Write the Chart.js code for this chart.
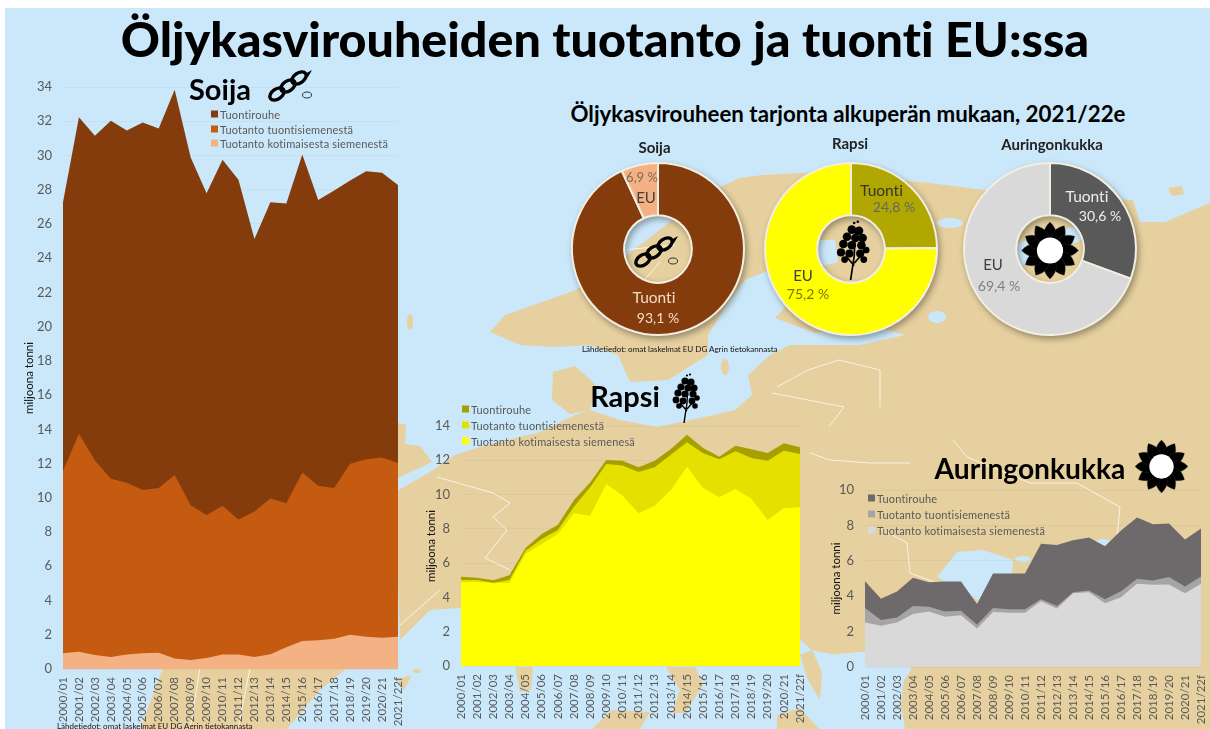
<!DOCTYPE html>
<html lang="fi">
<head>
<meta charset="utf-8">
<title>Öljykasvirouheiden tuotanto ja tuonti EU:ssa</title>
<script src="https://cdn.jsdelivr.net/npm/chart.js@4"></script>
<style>
  html, body { margin: 0; background: #fff; }
  #stage { position: relative; width: 1210px; height: 729px; overflow: hidden; font-family: Lato, sans-serif; font-variant-ligatures: none; }
  #map, canvas, .txt, .legend, .icon { position: absolute; }
  #map { left: 0; top: 0; }
  .txt { white-space: nowrap; transform: translate(-50%, -50%); }
  .txt.left { transform: translate(0, -50%); }
  .head { font-weight: 700; color: #000; }
  .legend { font-size: 11px; color: #595959; letter-spacing: .16px; }
  .legend div { position: absolute; white-space: nowrap; transform: translateY(-50%); }
  .legend i { position: absolute; width: 7px; height: 7px; top: 50%; margin-top: -3.5px; }
  .donut { filter: drop-shadow(2px 3px 3px rgba(0,0,0,.35)); }
</style>
</head>
<body>
<div id="stage">
  <svg id="map" width="1210" height="729">
    <defs>
      <symbol id="soy" viewBox="0 0 46 33">
        <g fill="none" stroke="#000" stroke-width="3.4">
          <ellipse cx="10" cy="24" rx="8" ry="5" transform="rotate(-35 10 24)"/>
          <ellipse cx="21" cy="16" rx="8" ry="5" transform="rotate(-35 21 16)"/>
          <ellipse cx="32" cy="8" rx="8" ry="5" transform="rotate(-35 32 8)"/>
        </g>
        <path d="M38 4 L45 0 L41 7 Z" fill="#000"/>
        <ellipse cx="40" cy="25" rx="4.5" ry="3" fill="none" stroke="#333" stroke-width="1"/>
      </symbol>
      <symbol id="rape" viewBox="0 0 28 50">
        <path d="M12 50 L15 30 M15 38 L8 30 M15 36 L22 28 M16 8 L15 30" stroke="#000" stroke-width="1.4" fill="none"/>
        <g fill="#000">
          <circle cx="13" cy="8" r="3.6"/><circle cx="19" cy="9" r="3.6"/><circle cx="9" cy="14" r="3.6"/>
          <circle cx="16" cy="15" r="3.6"/><circle cx="22" cy="15" r="3.6"/><circle cx="6" cy="20" r="3.6"/>
          <circle cx="13" cy="21" r="3.6"/><circle cx="21" cy="21" r="3.6"/><circle cx="4" cy="27" r="3.4"/>
          <circle cx="11" cy="28" r="3.4"/><circle cx="20" cy="28" r="3.4"/><circle cx="25" cy="25" r="2.8"/>
          <circle cx="7" cy="33" r="2.8"/><circle cx="23" cy="33" r="2.8"/>
          <circle cx="15" cy="2.5" r="1.1"/><circle cx="18" cy="1.5" r="1.1"/>
        </g>
      </symbol>
      <symbol id="sun" viewBox="-50 -50 100 100"><g id="sunPetals"></g><circle r="23" fill="#fff"/></symbol>
    </defs>
    <rect x="5" y="8" width="1205" height="721" fill="#cbe8fa"/>
    <g fill="#e6d09f">
      <path d="M720 187 L740 178 L762 175 L820 172 L870 177 L930 183 L984 190 L1010 200 L1060 196 L1133 200 L1140 222 L1165 222 L1210 203 L1210 729 L905 729 L898 690 L912 668 L880 650 L835 655 L812 650 L800 640 L795 600 L460 608 L430 610 L400 640 L395 492 L430 472 L455 455 L480 447 L540 432 L575 415 L590 410 L620 420 L657 427 L700 418 L735 410 L752 395 L748 375 L770 355 L790 345 L860 345 L905 335 L880 328 L815 333 L775 318 L800 290 L815 268 L838 262 L835 240 L812 240 L790 262 L745 280 L730 300 L708 335 L708 355 L668 380 L630 382 L618 355 L590 345 L555 347 L520 345 L490 332 L505 315 L576 290 L623 258 L675 218 Z"/>
      <path d="M553 372 L575 366 L596 385 L590 410 L570 414 L552 400 Z"/>
      <path d="M398 423 L406 425 L405 444 L420 446 L432 462 L398 478 Z"/>
      <path d="M163 668 L347 668 L320 690 L287 729 L140 729 Z"/>
      <path d="M1168 188 L1182 186 L1184 194 L1172 196 Z"/>
      <path d="M396 680 L412 675 L404 690 Z"/>
      <ellipse cx="417" cy="671" rx="4" ry="2"/>
      <ellipse cx="725" cy="367" rx="4" ry="8"/>
      <ellipse cx="410" cy="322" rx="3" ry="8"/>
      <path d="M515 667 L533 667 L531 690 L520 692 Z"/>
      <path d="M666 667 L695 667 L703 685 L685 713 L672 713 L680 690 Z"/>
      <path d="M592 729 L612 710 L650 712 L640 729 Z"/>
      <path d="M777 715 L800 708 L819 729 L777 729 Z"/>
      <path d="M800 655 L812 650 L822 672 L820 700 L808 680 Z"/>
    </g>
    <g fill="#cbe8fa">
      <ellipse cx="950" cy="223" rx="13" ry="5"/>
      <ellipse cx="937" cy="317" rx="9" ry="6"/>
      <ellipse cx="1073" cy="235" rx="10" ry="8"/>
      <ellipse cx="1023" cy="253" rx="8" ry="12"/>
      <path d="M937 577 L957 552 L983 550 L1013 560 L1010 603 L983 603 L960 590 Z"/>
      <ellipse cx="1023" cy="559" rx="8" ry="3"/>
      <ellipse cx="1103" cy="542" rx="7" ry="3"/>
      <path d="M830 655 L880 650 L905 668 L898 729 L830 729 L820 700 Z"/>
    </g>
    <g fill="none" stroke="#fff" stroke-width="1" opacity=".75">
      <path d="M437 477 L493 493 L510 503 L493 517 L507 530 L485 558 L510 570"/>
      <path d="M810 453 L830 460 L870 463 L910 463"/>
      <path d="M953 440 L967 457 L1030 483 L1077 483 L1120 507 L1117 537"/>
      <path d="M877 527 L907 543 L910 573 L937 583"/>
      <path d="M777 387 L808 370 L839 360 L880 370 L880 407"/>
      <path d="M772 393 L844 407 L829 427"/>
      <path d="M623 250 L675 245 M640 285 L660 262"/>
      <path d="M250 668 L238 729 M200 668 L190 729"/>
      <path d="M400 625 L440 590"/>
    </g>
  </svg>

  <canvas id="chartSoija" width="395" height="669" style="left:20px;top:60px"></canvas>
  <canvas id="chartRapsi" width="393" height="334" style="left:422px;top:395px"></canvas>
  <canvas id="chartAuringonkukka" width="383" height="259" style="left:827px;top:470px"></canvas>
  <canvas id="donutSoija" class="donut" width="190" height="190" style="left:563px;top:154px"></canvas>
  <canvas id="donutRapsi" class="donut" width="190" height="190" style="left:756px;top:154px"></canvas>
  <canvas id="donutAuringonkukka" class="donut" width="190" height="190" style="left:955px;top:154px"></canvas>

  <svg class="icon" style="left:267px;top:70px" width="46" height="33"><use href="#soy"/></svg>
  <svg class="icon" style="left:672px;top:373px" width="28" height="50"><use href="#rape"/></svg>
  <svg class="icon" style="left:1135px;top:440px" width="53" height="53"><use href="#sun"/></svg>
  <svg class="icon" style="left:633px;top:236px" width="46" height="33"><use href="#soy"/></svg>
  <svg class="icon" style="left:836px;top:220px" width="34" height="60"><use href="#rape"/></svg>
  <svg class="icon" style="left:1021px;top:222px" width="58" height="57"><use href="#sun"/></svg>

  <div class="txt head" id="mainTitle" style="left:605px;top:38px;font-size:48.4px;font-weight:900">Öljykasvirouheiden tuotanto ja tuonti EU:ssa</div>
  <div class="txt head" style="left:848px;top:113px;font-size:22.3px">Öljykasvirouheen tarjonta alkuperän mukaan, 2021/22e</div>
  <div class="txt head" style="left:220px;top:88px;font-size:29px">Soija</div>
  <div class="txt head" style="left:625px;top:395px;font-size:29px">Rapsi</div>
  <div class="txt head" style="left:1030px;top:468px;font-size:28.2px">Auringonkukka</div>
  <div class="txt head" style="left:654.5px;top:147px;font-size:15px;color:#222">Soija</div>
  <div class="txt head" style="left:850px;top:143px;font-size:15px;color:#222">Rapsi</div>
  <div class="txt head" style="left:1052px;top:144px;font-size:15px;color:#222">Auringonkukka</div>
  <div class="txt left" style="left:582px;top:349px;font-size:8px;color:#111">Lähdetiedot: omat laskelmat EU DG Agrin tietokannasta</div>
  <div class="txt left" style="left:57px;top:726px;font-size:8px;color:#111">Lähdetiedot: omat laskelmat EU DG Agrin tietokannasta</div>
  <div id="labels"></div>
  <div id="legends"></div>
</div>

<script>
// Kausi (x-akseli), yhteinen kaikille kolmelle aluekaaviolle
const seasons = ["2000/01","2001/02","2002/03","2003/04","2004/05","2005/06","2006/07","2007/08","2008/09","2009/10","2010/11","2011/12","2012/13","2013/14","2014/15","2015/16","2016/17","2017/18","2018/19","2019/20","2020/21","2021/22f"];

// milj. tonnia, luettu kuvasta
const soijaKotimainen = [0.92,1.01,0.82,0.70,0.84,0.92,0.95,0.62,0.53,0.64,0.84,0.84,0.70,0.86,1.27,1.64,1.68,1.77,2.00,1.89,1.83,1.89];
const soijaTuontisiemen = [10.64,12.73,11.36,10.41,10.04,9.53,9.63,10.72,9.04,8.36,8.69,7.89,8.50,9.10,8.42,9.84,9.02,8.81,9.99,10.37,10.53,10.14];
const soijaTuontirouhe = [15.71,18.50,18.97,20.92,20.58,21.48,21.00,22.50,20.33,18.80,20.22,19.85,15.92,17.31,17.50,18.58,16.70,17.37,16.55,16.82,16.63,16.25];

const rapsiKotimainen = [4.88,4.90,4.82,4.86,6.53,7.12,7.70,8.91,8.77,10.62,9.94,8.91,9.35,10.27,11.63,10.38,9.84,10.32,9.74,8.52,9.20,9.26];
const rapsiTuontisiemen = [0.14,0.12,0.04,0.16,0.20,0.29,0.23,0.38,1.65,1.16,1.75,2.41,2.24,2.06,1.42,2.03,2.22,2.20,2.39,3.46,3.36,3.11];
const rapsiTuontirouhe = [0.19,0.13,0.14,0.27,0.15,0.29,0.31,0.39,0.29,0.24,0.29,0.27,0.39,0.33,0.44,0.31,0.15,0.33,0.51,0.44,0.44,0.39];

const aurinkoKotimainen = [2.52,2.33,2.52,2.99,3.14,2.84,2.92,2.18,3.11,3.07,3.07,3.71,3.31,4.17,4.22,3.60,3.94,4.70,4.64,4.66,4.17,4.70];
const aurinkoTuontisiemen = [0.81,0.32,0.28,0.46,0.27,0.29,0.26,0.21,0.22,0.19,0.19,0.12,0.14,0.05,0.10,0.23,0.34,0.28,0.25,0.42,0.38,0.41];
const aurinkoTuontirouhe = [1.52,1.21,1.46,1.59,1.38,1.70,1.65,1.17,1.95,2.02,2.02,3.14,3.44,2.94,2.99,2.99,3.43,3.47,3.18,3.03,2.65,2.71];

// Selitteet
const legendSoija = ["Tuontirouhe","Tuotanto tuontisiemenestä","Tuotanto kotimaisesta siemenestä"];
const legendRapsi = ["Tuontirouhe","Tuotanto tuontisiemenestä","Tuotanto kotimaisesta siemenesä"];
const legendAuringonkukka = ["Tuontirouhe","Tuotanto tuontisiemenestä","Tuotanto kotimaisesta siemenestä"];

// Alkuperä 2021/22e, %
const donutLabels = ["Tuonti","EU"];
const donutSoija = [93.1,6.9];
const donutRapsi = [24.8,75.2];
const donutAuringonkukka = [30.6,69.4];

const yTitle = "miljoona tonni";
const tickGrey = "#595959";
const fontName = "Lato, sans-serif";

// series ja colors alhaalta ylos
function areaChart(id, series, colors, names, yMax, o) {
  return new Chart(document.getElementById(id), {
    type: "line",
    data: {
      labels: seasons,
      datasets: series.map((values, i) => ({
        label: names[2 - i],
        data: values,
        fill: "origin",
        backgroundColor: colors[i],
        borderWidth: 0,
        pointRadius: 0,
        tension: 0
      }))
    },
    options: {
      responsive: false,
      animation: false,
      layout: { padding: o.padding },
      plugins: { legend: { display: false }, tooltip: { enabled: false } },
      scales: {
        x: {
          stacked: true,
          grid: { display: false, drawTicks: false, tickLength: 0 },
          border: { display: false },
          ticks: { autoSkip: false, maxRotation: 90, minRotation: 90, padding: 8, color: tickGrey, font: { family: fontName, size: 11.5 } },
          afterFit: s => { s.height = o.xHeight; s.paddingRight = 0; s.paddingLeft = 0; }
        },
        y: {
          stacked: true,
          min: 0,
          max: yMax,
          grid: { color: "rgba(120,120,120,0.07)", tickLength: 0 },
          border: { display: false },
          title: { display: true, text: yTitle, color: "#111", font: { family: fontName, size: 11.5 }, padding: { top: 2, bottom: 0 } },
          ticks: { stepSize: 2, padding: 11, color: tickGrey, font: { family: fontName, size: 13 } },
          afterFit: s => { s.width = o.yWidth; }
        }
      }
    }
  });
}

function donutChart(id, values, colors) {
  return new Chart(document.getElementById(id), {
    type: "doughnut",
    data: {
      labels: donutLabels,
      datasets: [{ data: values, backgroundColor: colors, borderColor: "#f3eee2", borderWidth: 2 }]
    },
    options: {
      responsive: false,
      animation: false,
      radius: 86,
      cutout: 37,
      plugins: { legend: { display: false }, tooltip: { enabled: false } }
    }
  });
}

function addLegend(names, colors, left, top, step) {
  const box = document.createElement("div");
  box.className = "legend";
  box.style.left = left + "px";
  box.style.top = top + "px";
  names.forEach((name, i) => {
    const row = document.createElement("div");
    row.style.left = "9px";
    row.style.top = i * step + "px";
    row.textContent = name;
    const sq = document.createElement("i");
    sq.style.left = "-9px";
    sq.style.background = colors[i];
    row.appendChild(sq);
    box.appendChild(row);
  });
  document.getElementById("legends").appendChild(box);
}

function addLabel(text, x, y, size, color) {
  const d = document.createElement("div");
  d.className = "txt";
  d.style.cssText = `left:${x}px;top:${y}px;font-size:${size}px;color:${color}`;
  d.textContent = text;
  document.getElementById("labels").appendChild(d);
}

const soijaColors = ["#f4b183","#c55a11","#843c0c"];
const rapsiColors = ["#ffff00","#e5e000","#a5a000"];
const aurinkoColors = ["#d9d9d9","#a5a5a5","#6e696a"];

areaChart("chartSoija", [soijaKotimainen, soijaTuontisiemen, soijaTuontirouhe], soijaColors, legendSoija, 34,
  { padding: { top: 27, right: 17, bottom: 0, left: 0 }, xHeight: 60, yWidth: 43 });
areaChart("chartRapsi", [rapsiKotimainen, rapsiTuontisiemen, rapsiTuontirouhe], rapsiColors, legendRapsi, 14,
  { padding: { top: 31, right: 15, bottom: 0, left: 0 }, xHeight: 63, yWidth: 39 });
areaChart("chartAuringonkukka", [aurinkoKotimainen, aurinkoTuontisiemen, aurinkoTuontirouhe], aurinkoColors, legendAuringonkukka, 10,
  { padding: { top: 20, right: 9, bottom: 0, left: 0 }, xHeight: 62, yWidth: 38 });

donutChart("donutSoija", donutSoija, ["#843c0c","#f4b183"]);
donutChart("donutRapsi", donutRapsi, ["#b0a800","#ffff00"]);
donutChart("donutAuringonkukka", donutAuringonkukka, ["#595959","#d9d9d9"]);

addLegend(legendSoija, [...soijaColors].reverse(), 211, 114, 14.5);
addLegend(legendRapsi, [...rapsiColors].reverse(), 462, 409, 16);
addLegend(legendAuringonkukka, [...aurinkoColors].reverse(), 868, 498, 16);

const pct = v => v.toFixed(1).replace(".", ",") + " %";
addLabel(pct(donutSoija[1]), 642, 177, 13, "#7f6a5a");
addLabel(donutLabels[1], 646, 197, 15, "#404040");
addLabel(donutLabels[0], 654, 297, 15.5, "#f2ddcc");
addLabel(pct(donutSoija[0]), 658, 317, 14, "#f2ddcc");
addLabel(donutLabels[0], 881.5, 190, 15.5, "#333");
addLabel(pct(donutRapsi[0]), 894, 206, 14, "#666");
addLabel(donutLabels[1], 803, 275, 15, "#404040");
addLabel(pct(donutRapsi[1]), 808, 293, 14, "#77770a");
addLabel(donutLabels[0], 1087, 196, 15.5, "#eee");
addLabel(pct(donutAuringonkukka[0]), 1100, 215, 14, "#eee");
addLabel(donutLabels[1], 993, 264, 15, "#404040");
addLabel(pct(donutAuringonkukka[1]), 999, 285, 14, "#7f7f7f");

// auringonkukan terälehdet
let petals = "";
for (let a = 0; a < 360; a += 30) {
  petals += `<path transform="rotate(${a})" d="M0 -50 C15 -36 15 -18 0 -10 C-15 -18 -15 -36 0 -50 Z" fill="#000" stroke="#444" stroke-width=".5"/>`;
}
document.getElementById("sunPetals").innerHTML = petals;
</script>
</body>
</html>
